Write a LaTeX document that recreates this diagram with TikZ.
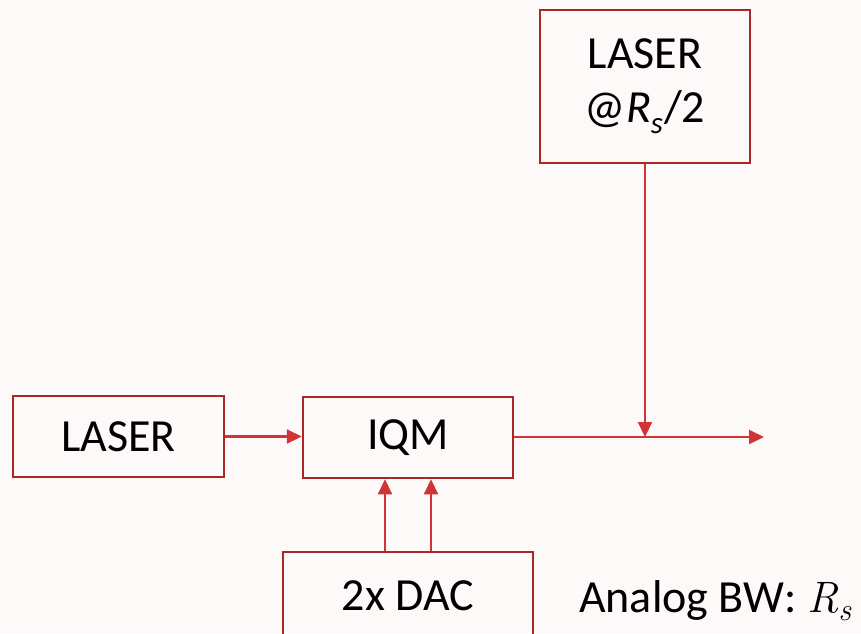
\documentclass[tikz,border=0pt]{standalone}
\usepackage{fontspec}
\setmainfont{Carlito}
\newfontfamily\lmrfont{Latin Modern Roman}
\usetikzlibrary{arrows.meta}
\definecolor{bg}{HTML}{FDF9F8}
\definecolor{boxred}{HTML}{A82828}
\definecolor{linered}{HTML}{D03434}
\tikzset{
  blk/.style={draw=boxred, line width=2.5pt, inner sep=0pt, align=center,
    font=\fontsize{46}{57}\selectfont},
  conn/.style={draw=linered, line width=2.2pt,
    -{Triangle[length=15pt,width=14pt]}},
}
\begin{document}
\begin{tikzpicture}[x=1pt,y=-1pt]
\fill[bg] (0,0) rectangle (861,633);
\useasboundingbox (0,0) rectangle (861,633);
\clip (0,0) rectangle (861,633);
\node[blk, minimum width=210pt, minimum height=153pt] (top) at (645,86.5)
  {\raisebox{-3pt}{LASER}\\@\textit{R}\raisebox{-11pt}{\fontsize{31}{31}\selectfont\textit{s}}\kern1pt/2};
\node[blk, minimum width=211pt, minimum height=81pt] (laser) at (118.5,436.5) {LASER};
\node[blk, minimum width=210pt, minimum height=81pt] (iqm) at (408,437.5) {IQM};
\node[blk, minimum width=250pt, minimum height=90pt] (dac) at (408,597) {\raisebox{2pt}{2x DAC}};
\coordinate (out) at (764,437);
\coordinate (join) at (645,437);
\node[anchor=base west, inner sep=0pt, font=\fontsize{46}{56}\selectfont] (bw) at (579,612)
  {Analog BW: {\lmrfont\itshape\fontsize{44}{44}\selectfont R\raisebox{-8pt}{\fontsize{32}{32}\selectfont s}}};
\draw[conn] (laser.east) -- (iqm.west |- laser.east);
\draw[conn] (iqm.east |- out) -- (out);
\draw[conn] (top.south) -- (join);
\draw[conn] ([xshift=-23pt]dac.north) -- ([xshift=-23pt]iqm.south);
\draw[conn] ([xshift=23pt]dac.north) -- ([xshift=23pt]iqm.south);
\end{tikzpicture}
\end{document}
